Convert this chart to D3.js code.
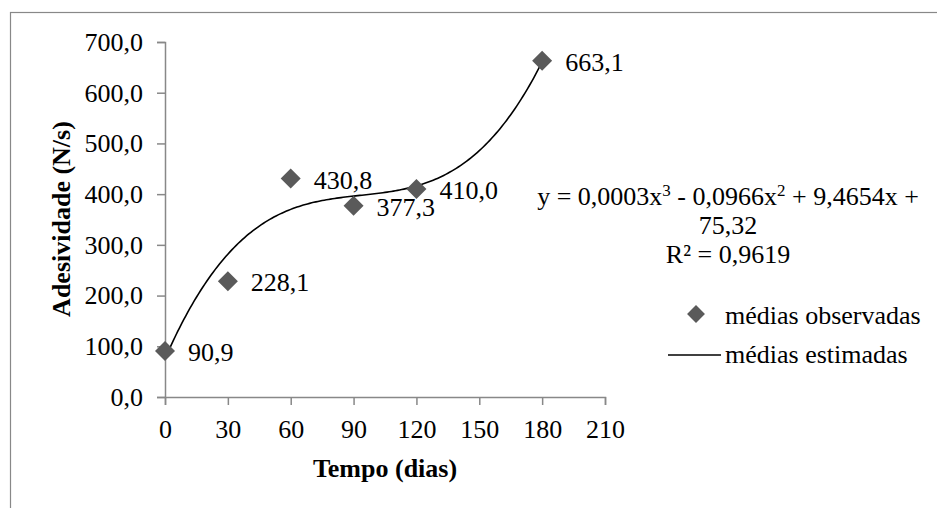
<!DOCTYPE html>
<html>
<head>
<meta charset="utf-8">
<script src="https://cdn.jsdelivr.net/npm/d3@7"></script>
<style>
  body { margin: 0; background: #fff; }
  svg text { font-family: "Liberation Serif", "Times New Roman", serif; }
</style>
</head>
<body>
<div id="chart"></div>
<script>
// observed means (dias, N/s)
const dias = [0, 30, 60, 90, 120, 180];
const adesividade = [90.9, 228.1, 430.8, 377.3, 410.0, 663.1];
const labels = ["90,9", "228,1", "430,8", "377,3", "410,0", "663,1"];
const xTicks = [0, 30, 60, 90, 120, 150, 180, 210];
const yTicks = [0, 100, 200, 300, 400, 500, 600, 700];
const eqLines = ["75,32", "R² = 0,9619"];

const W = 937, H = 508;
const fs = 26;

const svg = d3.select("#chart").append("svg")
    .attr("width", W).attr("height", H);

// outer frame (runs off the right and bottom edges)
svg.append("rect")
    .attr("x", 10.5).attr("y", 12.5)
    .attr("width", W + 20).attr("height", H + 20)
    .attr("fill", "none").attr("stroke", "#888").attr("stroke-width", 1.2);

const x = d3.scaleLinear().domain([0, 210]).range([165, 605]);
const y = d3.scaleLinear().domain([0, 700]).range([397, 42]);

// y axis
const yAxis = svg.append("g")
    .attr("transform", "translate(165,0)")
    .call(d3.axisLeft(y).tickValues(yTicks).tickSize(8).tickPadding(14)
        .tickFormat(d => d3.format(".1f")(d).replace(".", ",")));
// x axis
const xAxis = svg.append("g")
    .attr("transform", "translate(0,397)")
    .call(d3.axisBottom(x).tickValues(xTicks).tickSize(8).tickPadding(15));

[xAxis, yAxis].forEach(a => {
    a.attr("font-family", null).attr("font-size", null);
    a.select(".domain").attr("stroke", "#888").attr("stroke-width", 1.5);
    a.selectAll(".tick line").attr("stroke", "#888").attr("stroke-width", 1.5);
    a.selectAll(".tick text").attr("font-size", fs).attr("fill", "#000");
});

// axis titles
svg.append("text")
    .attr("x", 385).attr("y", 477)
    .attr("text-anchor", "middle")
    .attr("font-size", fs).attr("font-weight", "bold")
    .text("Tempo (dias)");

svg.append("text")
    .attr("transform", "translate(70,219) rotate(-90)")
    .attr("text-anchor", "middle")
    .attr("font-size", fs).attr("font-weight", "bold")
    .text("Adesividade (N/s)");

// least squares cubic fit (Excel polynomial trendline, order 3)
function polyFit(xs, ys, order) {
    const n = order + 1;
    const A = [];
    for (let i = 0; i < n; i++) {
        A.push([]);
        for (let j = 0; j < n; j++) A[i].push(d3.sum(xs, v => Math.pow(v, i + j)));
        A[i].push(d3.sum(xs, (v, k) => ys[k] * Math.pow(v, i)));
    }
    for (let c = 0; c < n; c++) {
        let p = c;
        for (let r = c + 1; r < n; r++) if (Math.abs(A[r][c]) > Math.abs(A[p][c])) p = r;
        [A[c], A[p]] = [A[p], A[c]];
        for (let r = 0; r < n; r++) {
            if (r === c) continue;
            const f = A[r][c] / A[c][c];
            for (let k = c; k <= n; k++) A[r][k] -= f * A[c][k];
        }
    }
    return A.map((row, i) => row[n] / row[i]);
}
const coef = polyFit(dias, adesividade, 3);
const fit = t => coef[0] + coef[1] * t + coef[2] * t * t + coef[3] * t * t * t;

const trend = d3.range(0, 180.01, 1).map(t => [t, fit(t)]);
svg.append("path")
    .datum(trend)
    .attr("fill", "none")
    .attr("stroke", "#000")
    .attr("stroke-width", 1.6)
    .attr("d", d3.line().x(d => x(d[0])).y(d => y(d[1])));

// observed points
const diamond = d3.symbol().type(d3.symbolSquare).size(200);
svg.append("g").selectAll("path")
    .data(dias)
    .enter().append("path")
    .attr("d", diamond)
    .attr("transform", (d, i) => `translate(${x(d)},${y(adesividade[i])}) rotate(45)`)
    .attr("fill", "#5a5a5a");

svg.append("g").selectAll("text")
    .data(dias)
    .enter().append("text")
    .attr("x", d => x(d) + 23)
    .attr("y", (d, i) => y(adesividade[i]) + 10)
    .attr("font-size", fs)
    .text((d, i) => labels[i]);

// trendline equation
const eq = svg.append("text")
    .attr("x", 728).attr("y", 205)
    .attr("text-anchor", "middle")
    .attr("font-size", fs);
eq.append("tspan").text("y = 0,0003x");
eq.append("tspan").attr("font-size", 17).attr("dy", -9).text("3");
eq.append("tspan").attr("dy", 9).text(" - 0,0966x");
eq.append("tspan").attr("font-size", 17).attr("dy", -9).text("2");
eq.append("tspan").attr("dy", 9).text(" + 9,4654x +");

svg.append("g").selectAll("text")
    .data(eqLines)
    .enter().append("text")
    .attr("x", 728)
    .attr("y", (d, i) => 234 + i * 29)
    .attr("text-anchor", "middle")
    .attr("font-size", fs)
    .text(d => d);

// legend
const legend = svg.append("g");
legend.append("path")
    .attr("d", d3.symbol().type(d3.symbolSquare).size(160))
    .attr("transform", "translate(696,314) rotate(45)")
    .attr("fill", "#5a5a5a");
legend.append("text")
    .attr("x", 725).attr("y", 324)
    .attr("font-size", fs)
    .text("médias observadas");
legend.append("line")
    .attr("x1", 668).attr("x2", 721)
    .attr("y1", 355).attr("y2", 355)
    .attr("stroke", "#000").attr("stroke-width", 1.6);
legend.append("text")
    .attr("x", 725).attr("y", 363)
    .attr("font-size", fs)
    .text("médias estimadas");
</script>
</body>
</html>
